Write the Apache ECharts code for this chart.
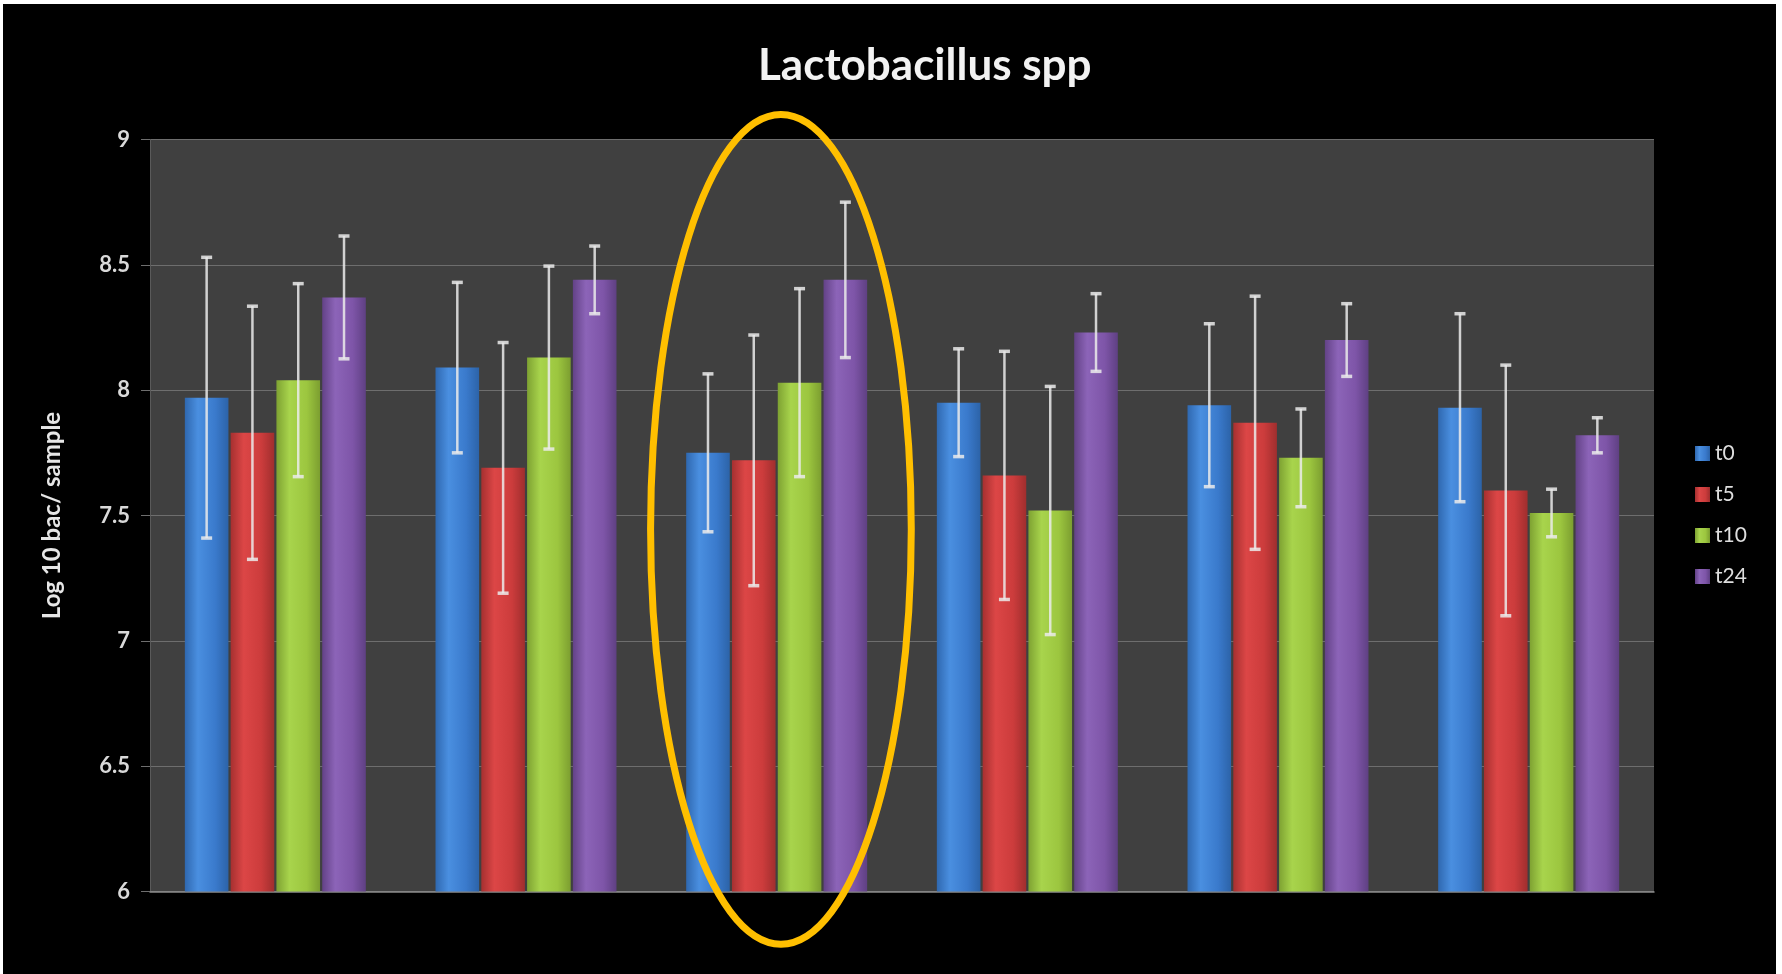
<!DOCTYPE html>
<html>
<head>
<meta charset="utf-8">
<script src="https://cdn.jsdelivr.net/npm/echarts@6/dist/echarts.min.js"></script>
<style>
  html, body { margin: 0; padding: 0; background: #ffffff; }
  #chart {
    width: 1782px; height: 974px; box-sizing: border-box;
    border-top: 4px solid #ffffff; border-left: 3px solid #ffffff; border-right: 6px solid #ffffff;
    background: #000000;
  }
</style>
</head>
<body>
<div id="chart"></div>
<script>
// ---- data ----
const categories = ['1', '2', '3', '4', '5', '6'];
const seriesNames = ['t0', 't5', 't10', 't24'];
const t0  = [7.97, 8.09, 7.75, 7.95, 7.94, 7.93];
const t5  = [7.83, 7.69, 7.72, 7.66, 7.87, 7.60];
const t10 = [8.04, 8.13, 8.03, 7.52, 7.73, 7.51];
const t24 = [8.37, 8.44, 8.44, 8.23, 8.20, 7.82];
const sd_t0  = [0.56, 0.34, 0.315, 0.215, 0.325, 0.375];
const sd_t5  = [0.505, 0.50, 0.50, 0.495, 0.505, 0.50];
const sd_t10 = [0.385, 0.365, 0.375, 0.495, 0.195, 0.095];
const sd_t24 = [0.245, 0.135, 0.31, 0.155, 0.145, 0.07];
const yTicks = { min: 6, max: 9, interval: 0.5 };
// annotation ellipse (in data terms): around category index 2
const ellipseCategory = 2;
const ellipseTop = 9.10;
const ellipseBottom = 5.79;

// ---- styling ----
const CAT_GAP = 0.278;
const BAR_GAP = 0.05;
const palette = [
  ['#2f68b0', '#4a8fe0', '#3a7acc', '#2c63a8'],
  ['#a63030', '#dc4646', '#cc3c3c', '#a02e2e'],
  ['#7ea232', '#a8d44c', '#9cc63f', '#7c9e30'],
  ['#634287', '#8c64b8', '#7e55a8', '#5f4083']
];
function grad(c) {
  return new echarts.graphic.LinearGradient(0, 0, 1, 0, [
    { offset: 0, color: c[0] },
    { offset: 0.3, color: c[1] },
    { offset: 0.7, color: c[2] },
    { offset: 1, color: c[3] }
  ]);
}
const means = [t0, t5, t10, t24];
const sds = [sd_t0, sd_t5, sd_t10, sd_t24];

const chart = echarts.init(document.getElementById('chart'), null, { renderer: 'canvas' });

const series = [];
means.forEach((m, i) => {
  series.push({
    name: seriesNames[i],
    type: 'bar',
    data: m,
    barCategoryGap: (CAT_GAP * 100) + '%',
    barGap: (BAR_GAP * 100) + '%',
    itemStyle: { color: grad(palette[i]), shadowBlur: 6, shadowColor: 'rgba(0,0,0,0.45)' },
    z: 2
  });
});
means.forEach((m, i) => {
  const errData = m.map((v, k) => [k, v - sds[i][k], v + sds[i][k]]);
  series.push({
    name: 'err_' + seriesNames[i],
    type: 'custom',
    z: 5,
    silent: true,
    data: errData,
    encode: { x: 0, y: [1, 2] },
    renderItem: function (params, api) {
      const x = api.value(0);
      const lo = api.coord([x, api.value(1)]);
      const hi = api.coord([x, api.value(2)]);
      const band = api.size([1, 0])[0];
      const total = band * (1 - CAT_GAP);
      const w = total / (4 + 3 * BAR_GAP);
      const cx = lo[0] - total / 2 + i * w * (1 + BAR_GAP) + w / 2;
      const cap = 5.5;
      const style = { stroke: 'rgba(235,235,235,0.85)', lineWidth: 2.5 };
      return {
        type: 'group',
        children: [
          { type: 'line', shape: { x1: cx, y1: hi[1], x2: cx, y2: lo[1] }, style: style },
          { type: 'line', shape: { x1: cx - cap, y1: hi[1], x2: cx + cap, y2: hi[1] }, style: { stroke: 'rgba(235,235,235,0.85)', lineWidth: 3.5 } },
          { type: 'line', shape: { x1: cx - cap, y1: lo[1], x2: cx + cap, y2: lo[1] }, style: { stroke: 'rgba(235,235,235,0.85)', lineWidth: 3.5 } }
        ]
      };
    }
  });
});

chart.setOption({
  backgroundColor: '#000000',
  animation: false,
  title: {
    text: 'Lactobacillus spp',
    left: 755, top: 40, padding: 0,
    textStyle: { color: '#f2f2f2', fontFamily: 'Lato', fontWeight: 'bold', fontSize: 44 }
  },
  legend: {
    data: seriesNames,
    orient: 'vertical',
    left: 1687, top: 434,
    itemWidth: 15, itemHeight: 15, itemGap: 20,
    icon: 'rect',
    textStyle: { color: '#dedede', fontFamily: 'Lato', fontSize: 21 }
  },
  grid: {
    left: 147, top: 135.5, right: 122, bottom: 82.5,
    show: true, backgroundColor: '#404040', borderWidth: 0,
    containLabel: false
  },
  xAxis: {
    type: 'category',
    data: categories,
    axisLabel: { show: false },
    axisTick: { show: false },
    axisLine: { show: true, lineStyle: { color: '#8a8a8a', width: 1.5 } },
    splitLine: { show: false }
  },
  yAxis: {
    type: 'value',
    min: yTicks.min, max: yTicks.max, interval: yTicks.interval,
    name: 'Log 10 bac/ sample',
    nameLocation: 'middle',
    nameGap: 86,
    nameTextStyle: { color: '#e6e6e6', fontFamily: 'Lato', fontWeight: 'bold', fontSize: 24 },
    axisLabel: { color: '#d9d9d9', fontFamily: 'Lato', fontWeight: 'bold', fontSize: 22, margin: 20 },
    axisTick: { show: true, length: 9, lineStyle: { color: '#6e6e6e' } },
    axisLine: { show: true, lineStyle: { color: '#5a5a5a' } },
    splitLine: { show: true, lineStyle: { color: '#6e6e6e', width: 1.2 } }
  },
  series: series
});

// annotation ellipse positioned through the chart's own scales
function drawEllipse() {
  const pA = chart.convertToPixel({ xAxisIndex: 0, yAxisIndex: 0 }, [ellipseCategory, ellipseTop]);
  const pB = chart.convertToPixel({ xAxisIndex: 0, yAxisIndex: 0 }, [ellipseCategory, ellipseBottom]);
  const pC = chart.convertToPixel({ xAxisIndex: 0, yAxisIndex: 0 }, [ellipseCategory + 1, ellipseTop]);
  const band = pC[0] - pA[0];
  chart.setOption({
    graphic: [{
      type: 'ellipse',
      z: 100,
      silent: true,
      shape: { cx: pA[0] + band * 0.017, cy: (pA[1] + pB[1]) / 2, rx: band * 0.52, ry: (pB[1] - pA[1]) / 2 },
      style: { fill: 'none', stroke: '#FFBF00', lineWidth: 7 }
    }]
  });
}
drawEllipse();
</script>
</body>
</html>
